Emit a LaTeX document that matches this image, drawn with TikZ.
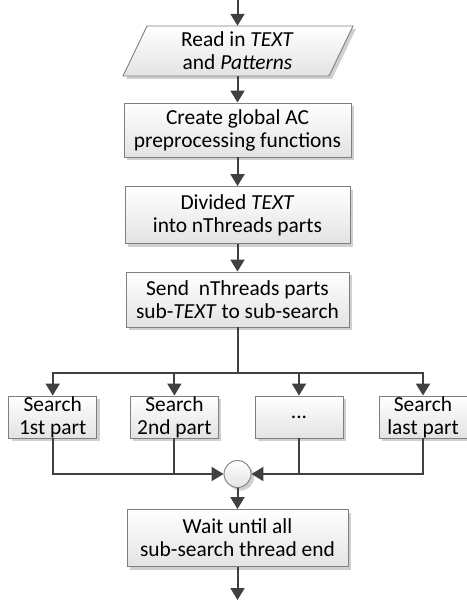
\documentclass[tikz,border=0pt]{standalone}
\usepackage{fontspec}
\setmainfont{Carlito}
\usetikzlibrary{arrows.meta,shadows,calc}
\definecolor{edgegray}{HTML}{7F7F7F}
\definecolor{linegray}{HTML}{404040}
\definecolor{shadowgray}{HTML}{D0D0D0}
\begin{document}
\begin{tikzpicture}[x=1bp,y=-1bp,
  font=\fontsize{21.5}{23}\selectfont,
  shade/.style={top color=white, bottom color=black!11},
  shad/.style={drop shadow={shadow xshift=3bp, shadow yshift=-3bp, fill=shadowgray, opacity=1}},
  box/.style={draw=edgegray, line width=0.9bp, shade, shad, align=center, inner sep=0pt},
  small/.style={box, minimum width=88bp, minimum height=42bp},
  conn/.style={draw=linegray, line width=2bp, -{Triangle[width=14bp,length=12bp]}},
  plain/.style={draw=linegray, line width=2bp}]
\useasboundingbox (0,0) rectangle (467,601);
% input parallelogram
\draw[draw=edgegray, line width=0.9bp, shade, shad] (123,76) -- (147,26) -- (353,26) -- (329,76) -- cycle;
\node[align=center, inner sep=0pt, minimum width=180bp, minimum height=50bp] (read) at (237.5,51) {Read in \textit{TEXT}\\and \textit{Patterns}};
\coordinate (start) at (237.5,0);
\node[box, minimum width=227bp, minimum height=54bp] (create) at (237.5,130) {Create global AC\\preprocessing functions};
\node[box, minimum width=225bp, minimum height=57bp] (divide) at (237.5,215) {Divided \textit{TEXT}\\into nThreads parts};
\node[box, minimum width=223bp, minimum height=55bp] (send) at (237.5,299.5) {Send~ nThreads parts\\sub-\textit{TEXT} to sub-search};
\coordinate (split) at (237.5,373);
\node[small] (s1) at (52.7,417) {Search\\1st part};
\node[small] (s2) at (174.4,417) {Search\\2nd part};
\node[small] (s3) at (299,417) {...};
\node[small] (s4) at (423,417) {Search\\last part};
\node[box, circle, minimum size=27bp] (circ) at (237.5,474) {};
\node[box, minimum width=221bp, minimum height=57bp] (wait) at (237.5,538) {Wait until all\\sub-search thread end};
\coordinate (finish) at (237.5,600);
% connectors
\draw[conn] (start) -- (read.north);
\draw[conn] (read.south) -- (create);
\draw[conn] (create) -- (divide);
\draw[conn] (divide) -- (send);
\draw[plain] (send) -- (split);
\draw[conn] (split) -| (s1);
\draw[conn] (split) -| (s2);
\draw[conn] (split) -| (s3);
\draw[conn] (split) -| (s4);
\draw[conn] (s1) |- (circ);
\draw[conn] (s4) |- (circ);
\draw[plain] (s2) -- (s2 |- circ);
\draw[plain] (s3) -- (s3 |- circ);
\draw[conn] (circ) -- (wait);
\draw[conn] (wait) -- (finish);
\end{tikzpicture}
\end{document}
